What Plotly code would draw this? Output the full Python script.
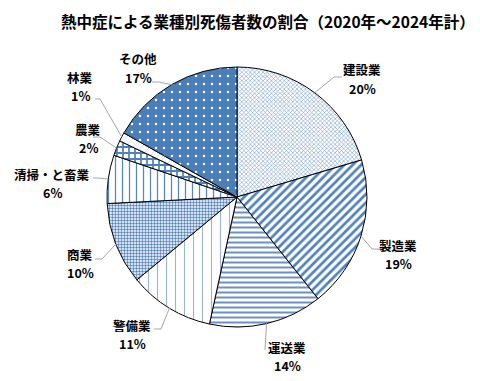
import math
import plotly.graph_objects as go

# ---- data ----
categories = ["建設業", "製造業", "運送業", "警備業", "商業", "清掃・と畜業", "農業", "林業", "その他"]
shares = [20.4, 18.9, 14.1, 10.6, 10.2, 6.0, 1.9, 1.1, 16.8]
pct_labels = ["20%", "19%", "14%", "11%", "10%", "6%", "2%", "1%", "17%"]
title_text = "熱中症による業種別死傷者数の割合（2020年～2024年計）"

# ---- styles ----
W, H = 480, 381
CX, CY, R = 237, 197, 130
BLUE = "#4f81bd"
pat_shape = ["x", "/", "-", "|", ".", "|", "+", "/", "."]
pat_fg = ["#5a88c2", BLUE, "#6a90c6", "#9bb3da", BLUE, "#5a86c0", BLUE, "#c9d6ea", "#ffffff"]
pat_bg = ["#ffffff"] * 8 + ["#4a7ebb"]
pat_size = [3, 6, 5, 9, 3, 7, 6, 6, 8]
pat_sol = [0.3, 0.45, 0.4, 0.12, 0.5, 0.18, 0.5, 0.15, 0.08]

# label layout (pixel positions of text centre, leader elbow, leader end)
label_xy = [(362, 70), (398, 245), (287, 347), (132, 325), (80, 254), (52, 174), (88, 129), (80, 77), (138, 59)]
elbow_xy = [(334, 77), (372, 249), (265, 350), (161, 329), (102, 259), (98, 178), (100, 137), (100, 99), (159, 82)]
end_xy = [(342, 77), (381, 249), (265, 350), (154, 329), (95, 259), (93, 178), (93, 137), (95, 99), (152, 82)]


def px(x):
    return x / W


def py(y):
    return 1 - y / H


fig = go.Figure(go.Pie(
    labels=categories,
    values=shares,
    sort=False,
    direction="clockwise",
    rotation=0,
    textinfo="none",
    hoverinfo="label+percent",
    marker=dict(
        colors=pat_bg,
        line=dict(color="#000000", width=1),
        pattern=dict(shape=pat_shape, fgcolor=pat_fg, bgcolor=pat_bg,
                     size=pat_size, solidity=pat_sol, fillmode="replace"),
    ),
    domain=dict(x=[px(CX - R), px(CX + R)], y=[py(CY + R), py(CY - R)]),
    showlegend=False,
))

total = sum(shares)
cum = 0.0
shapes = []
annotations = []
for i, v in enumerate(shares):
    mid = (cum + v / 2) / total * 2 * math.pi
    cum += v
    ex = CX + R * math.sin(mid)
    ey = CY - R * math.cos(mid)
    path = f"M {px(ex)},{py(ey)} L {px(elbow_xy[i][0])},{py(elbow_xy[i][1])} L {px(end_xy[i][0])},{py(end_xy[i][1])}"
    shapes.append(dict(type="path", xref="paper", yref="paper", path=path,
                       line=dict(color="#a6a6a6", width=1)))
    lx, ly = label_xy[i]
    annotations.append(dict(x=px(lx), y=py(ly), xref="paper", yref="paper",
                            text=f"<b>{categories[i]}</b>", showarrow=False,
                            xanchor="center", yanchor="middle",
                            font=dict(size=12.5, color="#000000")))
    annotations.append(dict(x=px(lx), y=py(ly + 18), xref="paper", yref="paper",
                            text=f"<b>{pct_labels[i]}</b>", showarrow=False,
                            xanchor="center", yanchor="middle",
                            font=dict(size=12.5, color="#000000")))

annotations.append(dict(x=px(268), y=py(21), xref="paper", yref="paper",
                        text=f"<b>{title_text}</b>", showarrow=False,
                        xanchor="center", yanchor="middle",
                        font=dict(size=15.5, color="#000000")))

fig.update_layout(
    width=W, height=H,
    margin=dict(l=0, r=0, t=0, b=0),
    paper_bgcolor="#ffffff",
    plot_bgcolor="#ffffff",
    font=dict(family="Noto Sans CJK JP, sans-serif"),
    shapes=shapes,
    annotations=annotations,
)

fig.write_html("out.html",
               config={"displayModeBar": False},
               post_script="document.body.style.margin='0';document.body.style.overflow='hidden';")
